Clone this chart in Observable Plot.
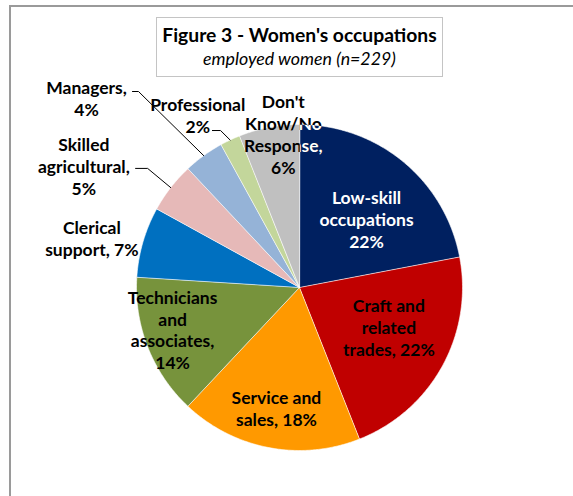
<!DOCTYPE html>
<html><head><meta charset="utf-8">
<script src="https://cdn.jsdelivr.net/npm/d3@7"></script>
<script src="https://cdn.jsdelivr.net/npm/@observablehq/plot@0.6"></script>
<style>
body{margin:0;background:#fff;}
#wrap{position:relative;width:573px;height:496px;overflow:hidden;background:#fff;}
#frame{position:absolute;left:9px;top:5px;width:800px;height:800px;border-top:2px solid #9a9a9a;border-left:2px solid #9a9a9a;}
#chart{position:absolute;left:0;top:0;}
#title{position:absolute;left:156px;top:17px;width:285px;height:58px;border:1px solid #c4c4c4;background:#fff;text-align:center;font-family:Lato,sans-serif;color:#000;}
#title .t{font-weight:bold;font-size:19.3px;line-height:22px;margin-top:6px;}
#title .s{font-style:italic;font-size:17.8px;line-height:21px;margin-top:2px;}
</style></head>
<body>
<div id="wrap">
  <div id="frame"></div>
  <div id="chart"></div>
  <div id="title"><div class="t">Figure 3 - Women's occupations</div><div class="s">employed women (n=229)</div></div>
</div>
<script>
// ---- data ----
const categories = ["Low-skill occupations","Craft and related trades","Service and sales","Technicians and associates","Clerical support","Skilled agricultural","Managers","Professional","Don't Know/No Response"];
const shares = [22, 22, 18, 14, 7, 5, 4, 2, 6];
const labelPrefixes = ["Low-skill\noccupations\n","Craft and\nrelated\ntrades, ","Service and\nsales, ","Technicians\nand\nassociates,\n","Clerical\nsupport, ","Skilled\nagricultural,\n","Managers,\n","Professional\n","Don't\nKnow/No\nResponse,\n"];

// ---- styles / layout ----
const palette = ["#002060","#C00000","#FF9900","#77933C","#0070C0","#E6B9B8","#95B3D7","#C3D69B","#C0C0C0"];
const labelColors = ["#ffffff","#000","#000","#000","#000","#000","#000","#000","#000"];
// label position: [angle offset from slice mid-angle (deg), radius in units of R]
const labelLayout = [[4.6,0.59],[-4.8,0.60],[0,0.755],[3.3,0.82],[-2.7,1.31],[-8.3,1.52],[-12.3,1.75],[-5.3,1.23],[4.8,0.95]];
// leader lines: category index -> [elbow angle offset (deg), elbow radius, horizontal length (units of R)]
const leaderLayout = {5:[0.3,1.184,0.074], 6:[-3.4,1.556,0.037], 7:[-1.5,1.078,0.05]};
const R = 163, cx = 299, cy = 287;
const FS = 17.5;

const rad = Math.PI/180;
const polar = (a, r) => [Math.sin(a) * r, -Math.cos(a) * r];

const rows = categories.map((c, i) => ({category: c, share: shares[i], i}));
const arcs = d3.pie().sort(null).value(d => d.share)(rows);

const slices = arcs.map(a => {
  const ring = [[0, 0]];
  const n = Math.max(2, Math.ceil((a.endAngle - a.startAngle) / (0.5 * rad)));
  for (let k = 0; k <= n; k++) ring.push(polar(a.startAngle + (a.endAngle - a.startAngle) * k / n, 1));
  ring.push([0, 0]);
  return {type: "Feature", properties: {category: a.data.category}, geometry: {type: "Polygon", coordinates: [ring]}};
});

const labels = arcs.map((a, i) => {
  const mid = (a.startAngle + a.endAngle) / 2;
  const [da, r] = labelLayout[i];
  const [x, y] = polar(mid + da * rad, r);
  return {x, y, text: labelPrefixes[i] + a.data.share + "%", color: labelColors[i], i};
});

const leaders = [];
for (const [k, [da, r, len]] of Object.entries(leaderLayout)) {
  const a = arcs[k];
  const mid = (a.startAngle + a.endAngle) / 2;
  const [ex, ey] = polar(mid + da * rad, r);
  const [tx, ty] = polar(mid, 1.0);
  leaders.push({x: ex - len, y: ey, k}, {x: ex, y: ey, k}, {x: tx, y: ty, k});
}

const textOpts = {x: "x", y: "y", text: "text", fontSize: FS, fontWeight: "bold", lineHeight: 22 / FS, textAnchor: "middle"};

const chart = Plot.plot({
  width: 573, height: 496, margin: 0,
  projection: {type: () => d3.geoIdentity().scale(R).translate([cx, cy])},
  color: {type: "ordinal", domain: categories, range: palette},
  style: {fontFamily: "Lato, sans-serif", background: "transparent"},
  marks: [
    Plot.geo(slices, {fill: d => d.properties.category, stroke: "#ffffff", strokeWidth: 0.6, className: "slices"}),
    Plot.line(leaders, {x: "x", y: "y", z: "k", stroke: "#000", strokeWidth: 1}),
    Plot.text(labels, {...textOpts, fill: "color"}),
    // the overlapping "Don't Know" label shows white where it crosses the navy slice
    Plot.text(labels.filter(d => d.i === 8), {...textOpts, fill: "#ffffff", className: "overlap-label"})
  ]
});
// clip the white copy to the first (navy) slice
(function () {
  const svgNS = "http://www.w3.org/2000/svg";
  const slicePath = chart.querySelector("g.slices path");
  const overlap = chart.querySelector("g.overlap-label");
  if (slicePath && overlap) {
    const defs = document.createElementNS(svgNS, "defs");
    const cp = document.createElementNS(svgNS, "clipPath");
    cp.setAttribute("id", "navy-clip");
    const p = slicePath.cloneNode(false);
    p.removeAttribute("fill");
    cp.appendChild(p);
    defs.appendChild(cp);
    chart.insertBefore(defs, chart.firstChild);
    overlap.setAttribute("clip-path", "url(#navy-clip)");
  }
})();
document.getElementById("chart").appendChild(chart);
</script>
</body></html>
